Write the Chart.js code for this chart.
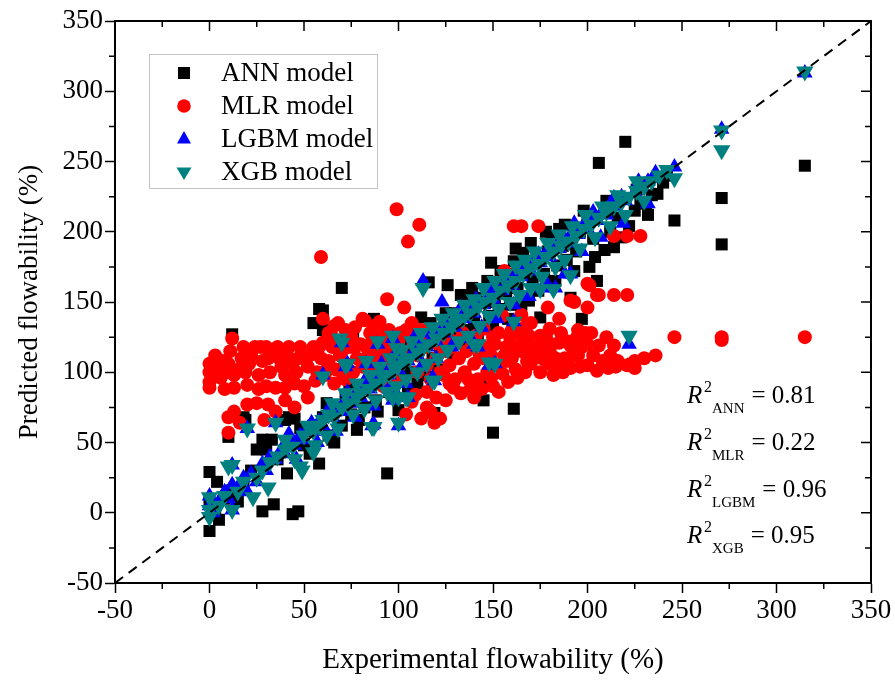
<!DOCTYPE html>
<html>
<head>
<meta charset="utf-8">
<script src="https://cdn.jsdelivr.net/npm/chart.js@4.4.0/dist/chart.umd.min.js"></script>
<style>
  body { margin: 0; background: #fff; }
  #wrap { width: 895px; height: 682px; }
</style>
</head>
<body>
<div id="wrap"><canvas id="myCanvasFlow" width="895" height="682"></canvas></div>
<script>
// dados: [experimental, previsto]
var annPts = [[0,-13],[5,-5],[0,29],[4,22],[0,8],[3,2],[8,10],[12,16],[15,8],[18,20],[12,127],[10,54],[18,68],[19,66],[22,30],[25,45],[28,52],[28,1],[30,45],[33,52],[34,6],[36,38],[40,66],[41,28],[44,-1],[47,1],[42,68],[45,67],[45,50],[50,48],[52,58],[55,135],[55,62],[58,35],[58,145],[60,130],[60,144],[60,68],[63,55],[66,50],[68,75],[70,160],[70,62],[72,82],[75,70],[76,128],[78,59],[80,88],[82,75],[85,96],[87,138],[88,80],[90,92],[92,102],[94,28],[95,86],[98,108],[100,95],[100,73],[104,112],[106,100],[108,118],[110,92],[112,139],[113,122],[116,164],[118,110],[119,71],[120,128],[122,115],[124,132],[126,162],[128,120],[130,142],[132,128],[135,146],[137,153],[138,130],[140,136],[141,153],[143,150],[145,80],[146,92],[148,140],[149,178],[150,57],[151,150],[153,145],[155,163],[157,156],[159,148],[160,170],[161,74],[161,179],[163,160],[166,185],[168,175],[169,151],[171,165],[173,182],[175,139],[177,170],[179,186],[181,165],[181,196],[184,176],[185,202],[187,190],[189,180],[191,191],[191,153],[194,186],[196,200],[197,138],[200,209],[201,175],[201,208],[203,195],[205,165],[206,249],[209,187],[212,200],[214,189],[216,210],[220,264],[222,204],[224,106],[225,215],[228,221],[231,220],[234,226],[237,227],[240,235],[246,208],[271,224],[271,191],[315,247],
  [48,60],[53,42],[62,78],[65,52],[74,90],[79,66],[84,104],[89,72],[93,112],[97,82],[102,122],[105,88],[109,128],[114,98],[117,135],[121,102],[125,142],[129,110],[133,155],[136,118],[139,160],[142,125],[147,165],[150,132],[154,172],[158,138],[162,188],[165,148],[170,192],[174,158],[178,200],[183,165],[188,205],[193,172],[198,215],[204,182],[210,222],[218,196],[226,230],[232,212],[242,240]];

var mlrPts = [[0,93],[0,100],[0,106],[2,98],[4,103],[6,96],[8,100],[10,106],[12,124],[13,98],[15,102],[17,110],[19,100],[21,106],[24,118],[26,98],[28,108],[30,118],[32,100],[34,112],[36,118],[38,104],[40,98],[42,118],[44,106],[46,100],[48,118],[50,110],[52,104],[55,118],[57,100],[59,110],[61,98],[63,108],[65,118],[67,102],[69,112],[72,106],[74,118],[76,100],[78,110],[81,104],[83,118],[86,108],[88,102],[90,112],[93,118],[95,106],[0,89],[8,88],[13,89],[35,89],[40,89],
  [3,112],[7,108],[11,115],[18,118],[22,112],[27,118],[31,110],[37,110],[41,112],[47,110],[53,112],[58,118],[62,102],[70,100],[77,118],[84,112],[89,118],[92,104],[97,110],[66,92],[72,95],[56,94],[50,90],[45,92],[20,91],[26,88],[30,90],
  [10,68],[10,57],[13,72],[16,64],[20,77],[25,78],[29,66],[31,77],[35,72],[40,80],[45,75],[52,82],
  [59,182],[99,216],[111,205],[105,193],[94,152],[103,146],[60,138],[66,133],[68,135],[81,138],[82,137],[87,133],[107,135],[112,130],[63,128],[72,130],[77,132],[90,136],[95,130],[86,122],[93,128],
  [60,121],[65,125],[70,115],[75,125],[80,120],[85,128],[90,125],[96,120],[100,115],[101,128],[105,110],[108,120],[110,100],[113,125],[115,105],[117,95],[120,110],[122,100],[125,115],[127,105],[130,95],[132,110],[135,100],[138,88],[140,82],[140,106],[142,95],[145,110],[147,100],[150,90],[152,105],[155,99],[158,93],[160,110],[162,102],[165,115],[168,108],[170,106],[170,119],[173,112],[177,123],[180,115],[185,103],[185,121],[188,110],[191,103],[191,119],[195,112],[200,105],[200,120],[206,119],[211,103],[214,119],[221,105],[230,110],[236,112],[107,79],[112,67],[119,64],[122,67],[115,75],[125,80],[129,89],[98,95],[92,90],
  [100,122],[104,130],[110,112],[114,118],[118,128],[121,120],[124,98],[126,125],[128,118],[131,122],[134,128],[136,115],[139,120],[141,126],[143,112],[146,118],[149,112],[151,120],[153,128],[156,112],[157,118],[159,125],[161,118],[163,128],[166,122],[167,132],[169,126],[171,112],[174,118],[176,110],[178,125],[181,120],[183,110],[186,128],[189,122],[192,112],[194,124],[197,118],[199,128],[203,112],[208,108],[212,112],[216,108],[225,108],[137,95],[133,85],[127,92],[144,88],[149,96],[153,86],[157,108],[163,96],[167,100],[175,100],[179,106],[182,98],[187,100],[196,104],[205,101],[215,104],[225,103],[109,84],[115,86],[120,82],[104,70],[117,72],
  [161,204],[165,204],[174,204],[156,172],[163,172],[200,163],[205,155],[200,146],[191,151],[179,146],[206,155],[214,155],[221,155],[201,162],[193,150],[214,197],[221,197],[228,197],[228,234],[202,128],[193,118],[246,125],[271,125],[271,123],[315,125],[170,135],[175,126],[180,131],[185,138],[160,130],[150,125],[155,140],[165,141],[145,131],[195,130],[210,125]];

var lgbmPts = [[0,5],[0,12],[2,0],[5,8],[8,15],[10,10],[12,20],[12,2],[15,18],[18,25],[20,15],[20,60],[22,28],[25,22],[28,35],[30,30],[32,40],[35,38],[35,64],[38,45],[40,42],[42,50],[45,48],[48,55],[50,52],[52,60],[55,58],[58,65],[60,62],[62,70],[65,68],[68,75],[70,72],[70,121],[72,80],[75,78],[78,85],[80,82],[82,90],[85,88],[86,62],[88,95],[90,92],[92,100],[95,98],[98,105],[100,62],[100,102],[102,110],[105,108],[108,115],[110,112],[112,120],[113,165],[115,118],[118,125],[120,122],[122,130],[123,150],[125,128],[128,135],[130,132],[132,140],[135,138],[138,145],[140,120],[140,142],[142,150],[145,148],[148,155],[150,152],[151,106],[152,160],[155,158],[158,165],[160,162],[161,136],[162,170],[165,168],[168,175],[170,172],[172,180],[175,178],[176,160],[178,185],[180,182],[182,190],[183,160],[185,188],[188,195],[190,192],[191,170],[192,200],[195,198],[198,205],[200,202],[202,210],[205,208],[208,215],[210,212],[212,220],[215,218],[218,225],[220,222],[222,120],[225,228],[228,232],[232,236],[235,238],[246,246],[271,273],[315,313],[60,98],[73,106],[119,94],[12,34],[100,82],[105,82],
  [42,56],[46,38],[54,64],[57,50],[64,76],[67,58],[73,86],[77,68],[83,96],[87,76],[91,106],[95,88],[101,114],[104,92],[108,124],[112,104],[117,128],[120,110],[125,136],[128,118],[133,146],[136,124],[141,152],[144,132],[149,160],[152,138],[157,168],[161,148],[166,176],[169,154],[174,184],[178,164],[184,192],[188,170],[193,206],[197,186],[203,214],[207,196],[214,224],[219,206],[227,236],[232,220],[236,242],[72,104],[83,106],[89,120],[97,124],[99,115],[87,63],[97,80],[118,96],[142,118],[148,105]];

var xgbPts = [[0,-3],[0,2],[0,11],[5,5],[8,12],[10,33],[12,2],[12,34],[15,15],[18,22],[20,60],[23,11],[25,25],[28,30],[31,18],[32,36],[35,64],[36,40],[40,45],[44,47],[48,33],[49,30],[50,55],[55,43],[55,58],[58,62],[60,97],[60,66],[63,70],[66,68],[69,124],[70,121],[70,75],[73,106],[74,78],[78,82],[80,85],[84,88],[86,61],[87,61],[88,92],[92,96],[95,98],[98,102],[100,64],[100,82],[100,105],[103,108],[105,82],[106,110],[110,114],[113,160],[113,117],[116,120],[119,94],[120,124],[124,128],[128,132],[130,135],[134,138],[138,142],[140,120],[142,146],[146,150],[150,153],[151,106],[154,158],[158,162],[161,136],[162,165],[166,170],[170,174],[174,177],[175,159],[178,182],[182,186],[182,159],[186,190],[190,193],[191,169],[194,197],[198,202],[202,205],[206,210],[210,214],[214,218],[218,221],[222,126],[222,225],[226,229],[230,232],[234,236],[246,238],[271,272],[271,258],[315,314],
  [40,52],[45,38],[52,62],[56,48],[62,55],[65,78],[68,60],[72,85],[76,70],[78,92],[82,74],[85,98],[88,80],[90,104],[94,86],[96,110],[99,90],[102,116],[104,95],[107,122],[110,100],[112,128],[115,106],[118,132],[121,110],[123,138],[126,116],[129,142],[132,122],[135,148],[137,126],[140,152],[143,133],[145,160],[148,140],[151,165],[153,145],[156,170],[159,150],[162,176],[164,155],[167,180],[170,160],[172,186],[176,168],[179,192],[183,175],[185,198],[188,180],[192,204],[196,188],[199,212],[204,196],[208,218],[212,204],[216,226],[220,212],[226,236],[230,222],[238,240],[242,244],
  [72,105],[83,108],[89,122],[97,126],[99,117],[97,82],[104,82],[118,94],[142,120],[148,107]];

var diagonalPts = [[-50,-50],[350,350]];

var axisMin = -50, axisMax = 350, majorStep = 50, minorStep = 25;
var legendLabels = ['ANN model', 'MLR model', 'LGBM model', 'XGB model'];
var r2Names = ['ANN', 'MLR', 'LGBM', 'XGB'];
var r2Values = ['0.81', '0.22', '0.96', '0.95'];

var serif = '"Liberation Serif", "Times New Roman", serif';
var cores = ['#000000', '#ff0000', '#0000ff', '#008080'];

var toPoints = function(arr) {
    return arr.map(function(p) { return {x: p[0], y: p[1]}; });
};

var desenhaMarcador = function(ctx, tipo, x, y, cor) {
    ctx.fillStyle = cor;
    ctx.beginPath();
    if (tipo === 0) {
        ctx.rect(x - 6, y - 6, 12, 12);
    } else if (tipo === 1) {
        ctx.arc(x, y, 6.8, 0, Math.PI * 2);
    } else if (tipo === 2) {
        ctx.moveTo(x, y - 8); ctx.lineTo(x + 7, y + 4.5); ctx.lineTo(x - 7, y + 4.5);
    } else {
        ctx.moveTo(x, y + 8); ctx.lineTo(x + 7.5, y - 4.5); ctx.lineTo(x - 7.5, y - 4.5);
    }
    ctx.closePath();
    ctx.fill();
};

var moldura = {
    id: 'moldura',
    afterDraw: function(chart) {
        var ctx = chart.ctx, a = chart.chartArea;
        var sx = chart.scales.x, sy = chart.scales.y;
        ctx.save();
        ctx.strokeStyle = '#000';
        ctx.lineWidth = 2;
        ctx.beginPath();
        ctx.moveTo(a.left, a.top); ctx.lineTo(a.right, a.top); ctx.lineTo(a.right, a.bottom);
        ctx.stroke();

        ctx.lineWidth = 1.5;
        for (var v = axisMin; v <= axisMax; v += minorStep) {
            var major = (v % majorStep === 0);
            var len = major ? 10 : 6;
            var px = sx.getPixelForValue(v), py = sy.getPixelForValue(v);
            ctx.beginPath();
            ctx.moveTo(px, a.top); ctx.lineTo(px, a.top + len);
            ctx.moveTo(a.right, py); ctx.lineTo(a.right - len, py);
            if (!major) {
                ctx.moveTo(px, a.bottom); ctx.lineTo(px, a.bottom + 6);
                ctx.moveTo(a.left, py); ctx.lineTo(a.left - 6, py);
            }
            ctx.stroke();
        }

        // legenda
        ctx.strokeStyle = '#c4c4c4';
        ctx.lineWidth = 1;
        ctx.strokeRect(149.5, 54.5, 228, 134);
        var ly = [73, 106, 139, 172];
        ctx.font = '27px ' + serif;
        ctx.textBaseline = 'middle';
        ctx.textAlign = 'left';
        for (var i = 0; i < legendLabels.length; i++) {
            desenhaMarcador(ctx, i, 184, ly[i], cores[i]);
            ctx.fillStyle = '#000';
            ctx.fillText(legendLabels[i], 221, ly[i] + 1);
        }

        // R2
        var by = [403, 450, 497, 543];
        ctx.textBaseline = 'alphabetic';
        for (var j = 0; j < r2Names.length; j++) {
            var x0 = 687;
            ctx.fillStyle = '#000';
            ctx.font = 'italic 25px ' + serif;
            ctx.fillText('R', x0, by[j]);
            ctx.font = '16px ' + serif;
            ctx.fillText('2', x0 + 17, by[j] - 11);
            ctx.font = '15px ' + serif;
            ctx.fillText(r2Names[j], 712, by[j] + 10);
            var sw = ctx.measureText(r2Names[j]).width;
            ctx.font = '25px ' + serif;
            ctx.fillText('= ' + r2Values[j], 712 + sw + 7, by[j]);
        }
        ctx.restore();
    }
};

var grafico = new Chart(document.getElementById('myCanvasFlow'), {
    type: 'scatter',
    data: {
        datasets: [
            {label: 'y = x', data: toPoints(diagonalPts), showLine: true, borderColor: '#000', borderWidth: 2,
             borderDash: [10, 7], pointRadius: 0, order: 0},
            {label: legendLabels[3], data: toPoints(xgbPts), pointStyle: 'triangle', pointRotation: 180,
             pointRadius: 10, pointBackgroundColor: cores[3], pointBorderWidth: 0, order: 1},
            {label: legendLabels[2], data: toPoints(lgbmPts), pointStyle: 'triangle',
             pointRadius: 9, pointBackgroundColor: cores[2], pointBorderWidth: 0, order: 2},
            {label: legendLabels[1], data: toPoints(mlrPts), pointStyle: 'circle',
             pointRadius: 7, pointBackgroundColor: cores[1], pointBorderWidth: 0, order: 3},
            {label: legendLabels[0], data: toPoints(annPts), pointStyle: 'rect',
             pointRadius: 8.5, pointBackgroundColor: cores[0], pointBorderWidth: 0, order: 4}
        ]
    },
    options: {
        responsive: false,
        animation: false,
        devicePixelRatio: 1,
        layout: {padding: {top: 21, right: 24, left: 0, bottom: 0}},
        plugins: {legend: {display: false}, tooltip: {enabled: false}},
        scales: {
            x: {
                type: 'linear', min: axisMin, max: axisMax,
                ticks: {stepSize: majorStep, color: '#000', font: {family: serif, size: 27}, padding: 2, maxRotation: 0, autoSkip: false},
                grid: {display: true, drawOnChartArea: false, drawTicks: true, tickLength: 10, tickColor: '#000', tickWidth: 1.5},
                border: {display: true, color: '#000', width: 2},
                title: {display: true, text: 'Experimental flowability (%)', color: '#000',
                        font: {family: serif, size: 29}, padding: {top: 0, bottom: 4}},
                afterFit: function(scale) { scale.height = 99; }
            },
            y: {
                type: 'linear', min: axisMin, max: axisMax,
                ticks: {stepSize: majorStep, color: '#000', font: {family: serif, size: 27}, padding: 2, autoSkip: false},
                grid: {display: true, drawOnChartArea: false, drawTicks: true, tickLength: 10, tickColor: '#000', tickWidth: 1.5},
                border: {display: true, color: '#000', width: 2},
                title: {display: true, text: 'Predicted flowability (%)', color: '#000',
                        font: {family: serif, size: 27}, padding: {top: 14, bottom: 0}},
                afterFit: function(scale) { scale.width = 115; }
            }
        }
    },
    plugins: [moldura]
});
</script>
</body>
</html>
